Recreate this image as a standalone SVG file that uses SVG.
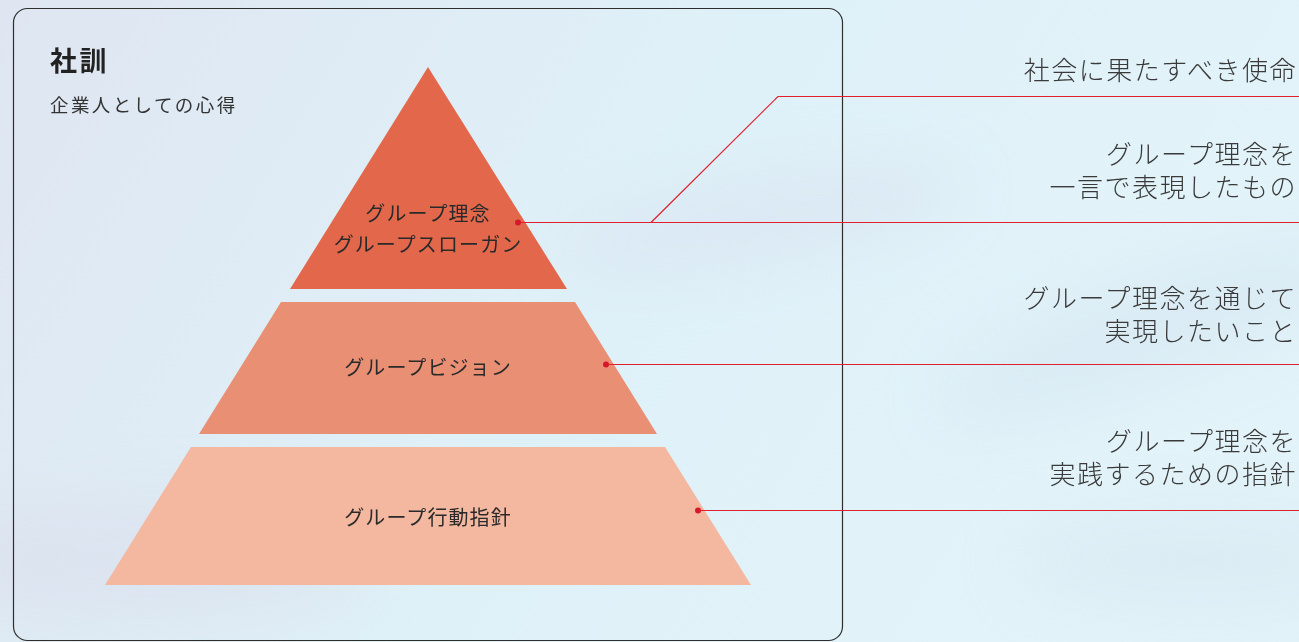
<svg xmlns="http://www.w3.org/2000/svg" width="1299" height="642" viewBox="0 0 1299 642">
  <defs>
    <linearGradient id="bg" x1="0" y1="0" x2="1" y2="0.3">
      <stop offset="0" stop-color="#dfe6f1"/>
      <stop offset="0.55" stop-color="#dff1f8"/>
      <stop offset="1" stop-color="#e2f3f9"/>
    </linearGradient>
    <filter id="blur" x="-50%" y="-50%" width="200%" height="200%">
      <feGaussianBlur stdDeviation="30"/>
    </filter>
  </defs>
  <style>
    .jp { font-family: "Noto Sans CJK JP", "Noto Sans", sans-serif; }
    .side { font-size: 26px; font-weight: 300; fill: #3a3a3a; text-anchor: end; letter-spacing: 1.5px; }
    .lbl { font-size: 20px; fill: #2a2a2a; text-anchor: middle; letter-spacing: 1.1px; }
    .conn { fill: none; stroke: #e0212d; stroke-width: 1.2; }
    .dot { fill: #d8182a; }
  </style>

  <rect x="0" y="0" width="1299" height="642" fill="url(#bg)"/>
  <g filter="url(#blur)" opacity="0.5">
    <ellipse cx="760" cy="220" rx="200" ry="40" fill="#d6dfee" transform="rotate(-10 760 220)"/>
    <ellipse cx="1150" cy="330" rx="220" ry="50" fill="#d3e4f0" transform="rotate(-20 1150 330)"/>
    <ellipse cx="150" cy="560" rx="220" ry="60" fill="#d9dcea"/>
    <ellipse cx="1200" cy="560" rx="180" ry="50" fill="#d6e6f0"/>
  </g>

  <g id="frame">
    <rect x="13.5" y="8.5" width="829" height="632" rx="14" ry="14" fill="none" stroke="#2e2e2e" stroke-width="1.2"/>
    <text class="jp" x="50" y="71" font-size="27" font-weight="700" fill="#222" letter-spacing="2.5">社訓</text>
    <text class="jp" x="50" y="112" font-size="18.5" fill="#333" letter-spacing="2.4">企業人としての心得</text>
  </g>

  <g id="tier-top">
    <polygon points="428,67 567,289 290,289" fill="#e3684b"/>
    <text class="jp lbl" x="428" y="221">グループ理念<tspan x="428" dy="31">グループスローガン</tspan></text>
  </g>

  <g id="tier-middle">
    <polygon points="281,302 575,302 657,434 199,434" fill="#e98f74"/>
    <text class="jp lbl" x="428" y="375">グループビジョン</text>
  </g>

  <g id="tier-bottom">
    <polygon points="191,447 665,447 751,585 105,585" fill="#f4b7a0"/>
    <text class="jp lbl" x="428" y="525">グループ行動指針</text>
  </g>

  <g id="connectors">
    <polyline class="conn" points="1299,96.5 778,96.5 651,222.5"/>
    <line class="conn" x1="518" y1="222.5" x2="1299" y2="222.5"/>
    <line class="conn" x1="606" y1="364.5" x2="1299" y2="364.5"/>
    <line class="conn" x1="698" y1="510.5" x2="1299" y2="510.5"/>
    <circle class="dot" cx="518" cy="222.5" r="3"/>
    <circle class="dot" cx="606" cy="364.5" r="3"/>
    <circle class="dot" cx="698" cy="510.5" r="3"/>
  </g>

  <g id="desc-mission">
    <text class="jp side" x="1297" y="80">社会に果たすべき使命</text>
  </g>
  <g id="desc-slogan">
    <text class="jp side" x="1297" y="164">グループ理念を<tspan x="1297" dy="33">一言で表現したもの</tspan></text>
  </g>
  <g id="desc-vision">
    <text class="jp side" x="1297" y="308">グループ理念を通じて<tspan x="1297" dy="33">実現したいこと</tspan></text>
  </g>
  <g id="desc-conduct">
    <text class="jp side" x="1297" y="451">グループ理念を<tspan x="1297" dy="33">実践するための指針</tspan></text>
  </g>
</svg>
